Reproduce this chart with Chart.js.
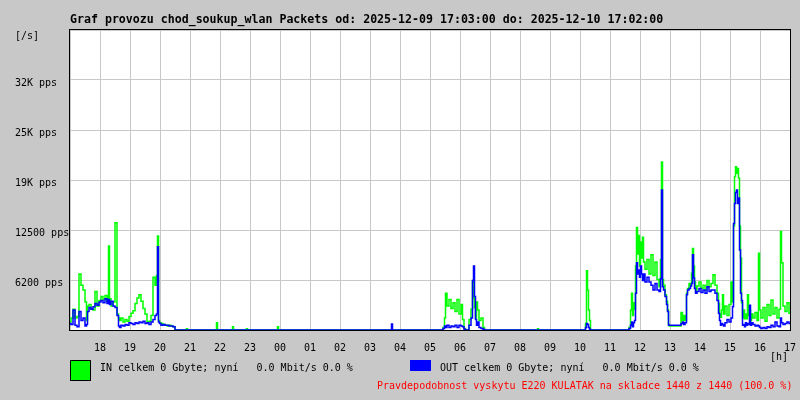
<!DOCTYPE html>
<html>
<head>
<meta charset="utf-8">
<script src="https://cdn.jsdelivr.net/npm/chart.js@4"></script>
<style>
	body { margin: 0; background: #c8c8c8; }
	#wrap { position: relative; width: 800px; height: 400px; font-family: "DejaVu Sans Mono", monospace; font-size: 10px; color: #000; }
	#wrap canvas { position: absolute; left: 0; top: 0; }
	.txt { position: absolute; white-space: pre; line-height: 12px; }
	#title { left: 70px; top: 13px; font-weight: bold; font-size: 11.6px; }
	.box { position: absolute; }
</style>
</head>
<body>
<div id="wrap">
	<canvas id="myChart" width="800" height="400"></canvas>
	<div class="txt" id="title">Graf provozu chod_soukup_wlan Packets od: 2025-12-09 17:03:00 do: 2025-12-10 17:02:00</div>
	<div class="txt" style="left:15px; top:30px;">[/s]</div>
	<div class="txt" style="left:770px; top:351px;">[h]</div>
	<div class="box" style="left:70px; top:360px; width:19px; height:19px; background:#00ff00; border:1px solid #000;"></div>
	<div class="txt" style="left:100px; top:362px;">IN celkem 0 Gbyte; nyní   0.0 Mbit/s 0.0 %</div>
	<div class="box" style="left:410px; top:360px; width:21px; height:11px; background:#0000ff;"></div>
	<div class="txt" style="left:440px; top:362px;">OUT celkem 0 Gbyte; nyní   0.0 Mbit/s 0.0 %</div>
	<div class="txt" style="left:377px; top:380px; color:#ff0000;">Pravdepodobnost vyskytu E220 KULATAK na skladce 1440 z 1440 (100.0 %)</div>
</div>
<script>
// minutes since 17:00 (2025-12-09)
const minutes = [
	0, 4, 8, 12, 16, 20, 24, 28, 32, 34, 36, 40, 44, 48, 52, 56, 60, 64, 68, 72, 76, 78, 80, 84, 88, 92, 96, 98,
	100, 104, 108, 112, 116, 120, 124, 128, 132, 136, 140, 144, 148, 152, 156, 160, 164, 168, 172, 174, 176, 178,
	180, 184, 188, 192, 196, 200, 204, 208, 212,
	232, 234, 236, 292, 294, 296, 324, 326, 328, 352, 354, 356, 414, 416, 418, 642, 644, 646, 744,
	748, 750, 752, 756, 760, 764, 768, 772, 776, 780, 784, 786, 790, 792, 796, 800, 804, 806, 808, 810, 812, 814,
	816, 820, 824, 828, 830, 934, 936, 938,
	1030, 1032, 1034, 1036, 1038, 1040, 1042, 1116,
	1120, 1122, 1124, 1126, 1128, 1130, 1132, 1134, 1136, 1138, 1140, 1142, 1144, 1146, 1148, 1152, 1156, 1160,
	1164, 1168, 1172, 1176, 1180, 1182, 1184, 1186, 1188, 1192, 1194, 1196, 1198, 1200, 1210, 1220, 1224, 1226,
	1228, 1232, 1234, 1236, 1240, 1242, 1244, 1246, 1248, 1250, 1252, 1256, 1260, 1264, 1268, 1272, 1276, 1280,
	1284, 1288, 1292, 1296, 1298, 1300, 1302, 1304, 1306, 1308, 1312, 1316, 1320, 1324, 1326, 1328, 1330, 1332,
	1334, 1336, 1338, 1340, 1342, 1344, 1346, 1348, 1350, 1352, 1354, 1356, 1358, 1360, 1362, 1364, 1368, 1372,
	1376, 1378, 1380, 1384, 1388, 1392, 1396, 1400, 1404, 1408, 1412, 1416, 1420, 1422, 1424, 1428, 1432, 1436, 1440
];

// IN packets per second
const inPps = [
	1000, 1500, 2600, 1500, 1700, 7000, 5600, 5000, 3500, 1200, 3000, 3200, 2600, 2500, 4800, 3000, 3700, 4200, 3800, 4300, 3500, 10500, 3900, 3000, 3500, 13400, 2000, 1500,
	1200, 1500, 1000, 1300, 1100, 1700, 2100, 2400, 3300, 4000, 4400, 3600, 2700, 2000, 1000, 1100, 1800, 6600, 5600, 6800, 11750, 1200,
	900, 800, 700, 600, 500, 600, 500, 400, 0,
	0, 150, 0, 0, 900, 0, 0, 400, 0, 0, 150, 0, 0, 400, 0, 0, 0, 0, 0,
	300, 1500, 4600, 3000, 3800, 2700, 3400, 2300, 3800, 2000, 3200, 1300, 200, 0, 0, 1300, 2600, 6200, 4000, 2800, 1500, 3500,
	2500, 1200, 1500, 300, 0, 0, 150, 0,
	0, 800, 7400, 5000, 2500, 1200, 0, 0,
	300, 2500, 4600, 1800, 3400, 2600, 8000, 12800, 9500, 11800, 8000, 11000, 9000, 11600, 8500, 7600, 8800, 7000,
	9400, 6800, 8500, 6300, 5400, 8800, 21000, 6300, 5600, 4400, 3600, 2500, 700, 500, 500, 500, 2200, 1200,
	1800, 1200, 4600, 5200, 5800, 5600, 7100, 10200, 8000, 6000, 5000, 5500, 6000, 5200, 5600, 5000, 6200, 5400,
	5800, 6900, 5600, 4600, 3300, 2000, 1600, 2500, 4400, 2000, 3000, 1800, 3200, 6000, 3500, 13000, 19200, 20400,
	19600, 20200, 19000, 13000, 9000, 3400, 1500, 2500, 1400, 2000, 1400, 4400, 1800, 2500, 1200, 2000, 1500, 2200,
	1200, 9600, 2500, 1500, 2800, 1100, 3200, 1800, 3750, 2000, 2800, 1500, 2600, 12300, 8400, 3000, 2300, 3400, 2100
];

// OUT packets per second
const outPps = [
	800, 700, 2500, 600, 400, 2300, 1200, 1500, 500, 700, 2300, 2800, 2600, 2900, 3300, 3100, 3500, 3700, 3400, 3900, 3300, 3800, 3200, 3600, 3000, 2800, 1800, 500,
	300, 600, 500, 700, 600, 900, 800, 700, 900, 800, 1000, 900, 1100, 800, 900, 700, 1000, 1300, 1800, 2000, 10400, 1000,
	800, 600, 700, 600, 600, 500, 500, 400, 0,
	0, 0, 0, 0, 0, 0, 0, 0, 0, 0, 0, 0, 0, 0, 0, 0, 750, 0, 0,
	200, 500, 300, 600, 300, 500, 400, 600, 300, 600, 500, 400, 100, 0, 0, 600, 1500, 6200, 8000, 4200, 1300, 600,
	1000, 300, 200, 100, 0, 0, 0, 0,
	0, 300, 800, 700, 300, 100, 0, 0,
	200, 600, 1000, 400, 900, 1200, 4600, 8400, 7000, 7500, 6600, 8000, 7000, 6200, 7000, 6000, 6600, 6000,
	5600, 5000, 5800, 5000, 4800, 6400, 17500, 5400, 5000, 4200, 3200, 2300, 600, 600, 600, 600, 800, 1000,
	700, 900, 4400, 5000, 5200, 5500, 5800, 9400, 6500, 5200, 4600, 4800, 5200, 4700, 5000, 4600, 5400, 4800,
	5000, 5000, 4600, 3700, 2100, 1200, 600, 800, 700, 500, 900, 1300, 1000, 1500, 2900, 13300, 15800, 17200,
	17500, 15800, 16500, 10000, 4600, 3700, 600, 700, 400, 900, 600, 800, 700, 3100, 600, 900, 700, 500,
	600, 500, 300, 200, 300, 200, 400, 300, 600, 400, 1000, 500, 400, 1500, 900, 700, 800, 1000, 800
];

const hourLabels = ['', '18', '19', '20', '21', '22', '23', '00', '01', '02', '03', '04', '05', '06',
	'07', '08', '09', '10', '11', '12', '13', '14', '15', '16', '17'];
const yTickLabels = ['', '6200 pps', '12500 pps', '19K pps', '25K pps', '32K pps', ''];

const tickFont = { family: 'DejaVu Sans Mono', size: 10 };

// white plot area with a black frame, like MRTG
const frame = {
	id: 'frame',
	beforeDraw(chart) {
		const a = chart.chartArea;
		chart.ctx.save();
		chart.ctx.fillStyle = '#ffffff';
		chart.ctx.fillRect(a.left, a.top, a.right - a.left, a.bottom - a.top);
		chart.ctx.restore();
	},
	afterDraw(chart) {
		const a = chart.chartArea;
		const ctx = chart.ctx;
		ctx.save();
		ctx.strokeStyle = '#000000';
		ctx.lineWidth = 1;
		ctx.strokeRect(Math.round(a.left) - 0.5, Math.round(a.top) - 0.5, Math.round(a.right - a.left) + 1, Math.round(a.bottom - a.top) + 1);
		ctx.restore();
	}
};

new Chart(document.getElementById('myChart'), {
	type: 'line',
	data: {
		datasets: [
			{
				label: 'OUT',
				data: minutes.map((m, i) => ({ x: m, y: outPps[i] })),
				borderColor: '#0000ff',
				borderWidth: 1.5,
				pointRadius: 0,
				stepped: 'middle',
				order: 0
			},
			{
				label: 'IN',
				data: minutes.map((m, i) => ({ x: m, y: inPps[i] })),
				borderColor: '#00ff00',
				borderWidth: 1.5,
				pointRadius: 0,
				stepped: 'middle',
				order: 1
			}
		]
	},
	options: {
		responsive: false,
		animation: false,
		layout: { padding: { left: 15, top: 30, right: 10, bottom: 0 } },
		plugins: { legend: { display: false }, tooltip: { enabled: false } },
		scales: {
			x: {
				type: 'linear',
				min: 0,
				max: 1440,
				afterFit: (scale) => {
					scale.height = 70;
					scale.paddingLeft = 0;
					scale.paddingRight = 0;
				},
				grid: { color: '#c8c8c8', drawTicks: false },
				border: { display: false },
				ticks: {
					stepSize: 60,
					autoSkip: false,
					maxRotation: 0,
					padding: 12,
					color: '#000',
					font: tickFont,
					callback: (v) => hourLabels[v / 60]
				}
			},
			y: {
				min: 0,
				max: 37500,
				afterFit: (scale) => { scale.width = 55; },
				grid: { color: '#c8c8c8', drawTicks: false },
				border: { display: false },
				ticks: {
					stepSize: 6250,
					crossAlign: 'far',
					labelOffset: 3,
					color: '#000',
					font: tickFont,
					callback: (v) => yTickLabels[v / 6250]
				}
			}
		}
	},
	plugins: [frame]
});
</script>
</body>
</html>
